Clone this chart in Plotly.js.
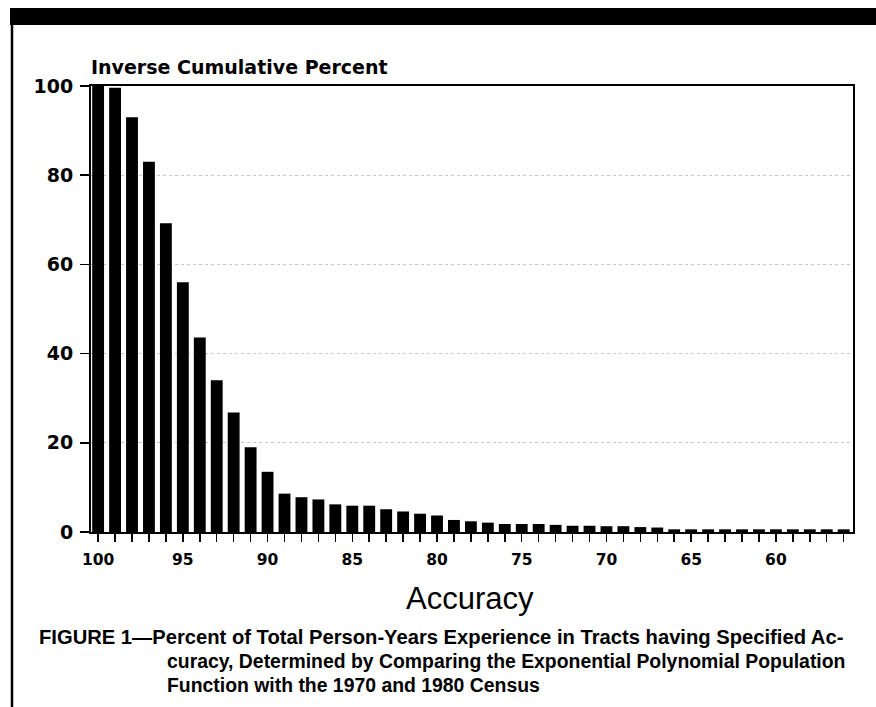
<!DOCTYPE html>
<html>
<head>
<meta charset="utf-8">
<script src="https://cdn.plot.ly/plotly-3.0.1.min.js"></script>
<style>html,body{margin:0;padding:0;background:#fff;}#chart{width:876px;height:707px;}</style>
</head>
<body>
<div id="chart"></div>
<script>
// Accuracy categories (percent), 100 down to 56
var accuracy = [100,99,98,97,96,95,94,93,92,91,90,89,88,87,86,85,84,83,82,81,80,79,78,77,76,75,74,73,72,71,70,69,68,67,66,65,64,63,62,61,60,59,58,57,56];
// Inverse cumulative percent of total person-years
var inverseCumPercent = [100,99.6,93.0,83.0,69.2,56.0,43.6,34.0,26.8,19.0,13.5,8.6,7.8,7.3,6.2,5.9,5.9,5.1,4.6,4.1,3.7,2.7,2.4,2.1,1.8,1.8,1.8,1.6,1.4,1.4,1.3,1.3,1.1,1.0,0.6,0.6,0.6,0.6,0.6,0.6,0.6,0.6,0.6,0.6,0.6];
var xTickVals = [100,95,90,85,80,75,70,65,60];
var yTickVals = [0,20,40,60,80,100];

var W = 876, H = 707;
var L = 91, R = 853, T = 86, B = 532;
function px(x){ return (x - L) / (R - L); }
function py(y){ return (B - y) / (B - T); }

var trace = {
  type: 'bar',
  x: accuracy,
  y: inverseCumPercent,
  width: 0.7,
  marker: {color: '#000', line: {width: 0}},
  hoverinfo: 'x+y'
};

var captionFont1 = {family: 'Liberation Sans, Arial, sans-serif', size: 20.2, color: '#000'};
var captionFont2 = {family: 'Liberation Sans, Arial, sans-serif', size: 19.4, color: '#000'};

var layout = {
  width: W, height: H,
  margin: {l: L, r: W - R, t: T, b: H - B, pad: 0},
  paper_bgcolor: '#fff', plot_bgcolor: '#fff',
  showlegend: false,
  bargap: 0.3,
  xaxis: {
    range: [100.42, 55.45],
    tickmode: 'array', tickvals: xTickVals, ticktext: xTickVals.map(String),
    ticks: 'outside', ticklen: 8, tickwidth: 1.5, tickcolor: '#000',
    minor: {dtick: 1, tick0: 0, ticks: 'outside', ticklen: 8, tickwidth: 1.5, tickcolor: '#000', showgrid: false},
    showline: true, linewidth: 2, linecolor: '#000', mirror: true,
    showgrid: false, zeroline: false,
    ticklabelstandoff: 4,
    tickfont: {family: 'DejaVu Sans, sans-serif', size: 15.5, color: '#000', weight: 'bold'},
    fixedrange: true
  },
  yaxis: {
    range: [0, 100],
    tickmode: 'array', tickvals: yTickVals, ticktext: yTickVals.map(String),
    ticks: 'outside', ticklen: 9, tickwidth: 1.5, tickcolor: '#000',
    showline: true, linewidth: 2, linecolor: '#000', mirror: true,
    showgrid: true, gridcolor: '#c8c8c8', gridwidth: 1, griddash: 'dot',
    zeroline: false,
    ticklabelstandoff: 3,
    tickfont: {family: 'DejaVu Sans, sans-serif', size: 19, color: '#000', weight: 'bold'},
    fixedrange: true
  },
  shapes: [
    {type: 'rect', xref: 'paper', yref: 'paper', x0: px(10), x1: px(880), y0: py(25), y1: py(8), fillcolor: '#000', line: {width: 0}, layer: 'above'},
    {type: 'line', xref: 'paper', yref: 'paper', x0: px(12), x1: px(12), y0: py(25), y1: py(710), line: {color: '#000', width: 2.5}, layer: 'above'}
  ],
  annotations: [
    {text: '<b>Inverse Cumulative Percent</b>', xref: 'paper', yref: 'paper', x: px(89), y: py(67), xanchor: 'left', yanchor: 'middle', showarrow: false,
     font: {family: 'DejaVu Sans, sans-serif', size: 19, color: '#000'}},
    {text: 'Accuracy', xref: 'paper', yref: 'paper', x: px(470), y: py(598), xanchor: 'center', yanchor: 'middle', showarrow: false,
     font: {family: 'Liberation Sans, Arial, sans-serif', size: 31, color: '#000'}},
    {text: '<b>FIGURE 1\u2014Percent of Total Person-Years Experience in Tracts having Specified Ac-</b>', xref: 'paper', yref: 'paper', x: px(37), y: py(637), xanchor: 'left', yanchor: 'middle', showarrow: false, font: captionFont1},
    {text: '<b>curacy, Determined by Comparing the Exponential Polynomial Population</b>', xref: 'paper', yref: 'paper', x: px(165), y: py(661), xanchor: 'left', yanchor: 'middle', showarrow: false, font: captionFont2},
    {text: '<b>Function with the 1970 and 1980 Census</b>', xref: 'paper', yref: 'paper', x: px(165), y: py(685), xanchor: 'left', yanchor: 'middle', showarrow: false, font: captionFont2}
  ]
};

Plotly.newPlot('chart', [trace], layout, {displayModeBar: false, staticPlot: true});
</script>
</body>
</html>
